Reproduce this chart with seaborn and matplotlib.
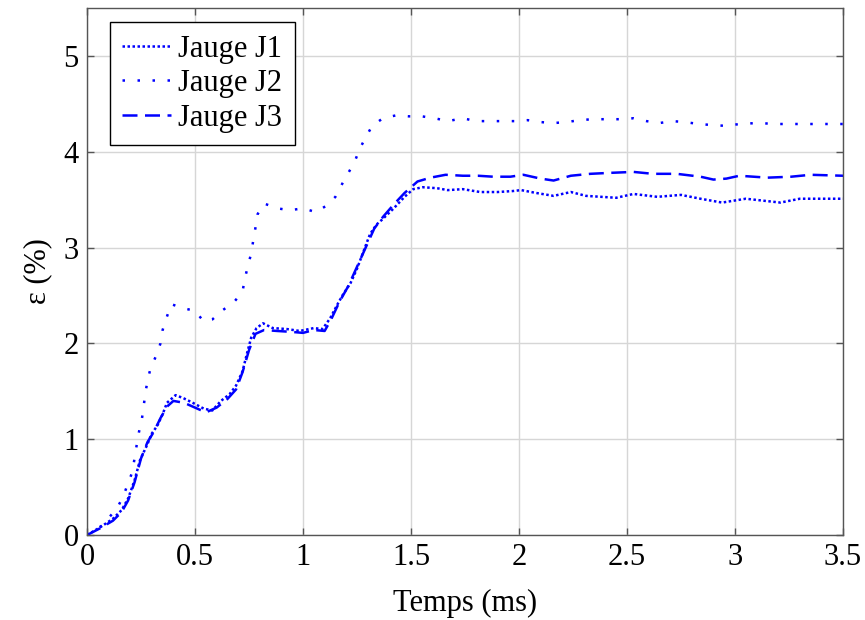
import pandas as pd
import seaborn as sns
import matplotlib.pyplot as plt

# strain gauges, time in ms, strain in %
t_j1 = [0, 0.06, 0.12, 0.16, 0.19, 0.22, 0.245, 0.28, 0.30, 0.325, 0.35, 0.37,
        0.41, 0.445, 0.49, 0.54, 0.58, 0.62, 0.66, 0.69, 0.72, 0.74, 0.76, 0.785,
        0.815, 0.86, 0.925, 0.985, 1.05, 1.09, 1.125, 1.16, 1.185, 1.22, 1.25,
        1.28, 1.31, 1.34, 1.365, 1.42, 1.47, 1.51, 1.555, 1.62, 1.67, 1.74, 1.82,
        1.90, 1.97, 2.01, 2.08, 2.16, 2.24, 2.31, 2.45, 2.53, 2.64, 2.75, 2.84,
        2.94, 3.05, 3.21, 3.30, 3.50]
eps_j1 = [0, 0.08, 0.17, 0.26, 0.38, 0.57, 0.78, 0.95, 1.06, 1.14, 1.26, 1.38,
          1.46, 1.43, 1.38, 1.32, 1.30, 1.40, 1.47, 1.56, 1.71, 1.89, 2.06, 2.16,
          2.21, 2.16, 2.15, 2.13, 2.16, 2.15, 2.26, 2.41, 2.51, 2.63, 2.78,
          2.96, 3.14, 3.24, 3.29, 3.41, 3.53, 3.61, 3.63, 3.62, 3.60, 3.61, 3.58,
          3.58, 3.59, 3.60, 3.57, 3.54, 3.58, 3.54, 3.52, 3.56, 3.53, 3.55, 3.51,
          3.47, 3.51, 3.47, 3.51, 3.51]

t_j2 = [0, 0.07, 0.139, 0.167, 0.19, 0.21, 0.22, 0.23, 0.24, 0.254, 0.262, 0.27,
        0.28, 0.295, 0.32, 0.34, 0.35, 0.37, 0.39, 0.44, 0.50, 0.54, 0.58, 0.63,
        0.68, 0.72, 0.73, 0.745, 0.76, 0.77, 0.78, 0.79, 0.82, 0.88, 0.94, 1.00,
        1.06, 1.11, 1.15, 1.18, 1.21, 1.24, 1.26, 1.29, 1.32, 1.37, 1.43, 1.49,
        1.55, 1.61, 1.67, 1.74, 1.80, 1.86, 1.92, 1.98, 2.04, 2.10, 2.16, 2.22,
        2.28, 2.34, 2.41, 2.47, 2.53, 2.59, 2.65, 2.71, 2.77, 2.83, 2.89, 2.96,
        3.02, 3.10, 3.20, 3.30, 3.50]
eps_j2 = [0, 0.10, 0.28, 0.40, 0.54, 0.66, 0.80, 0.94, 1.07, 1.21, 1.34, 1.48,
          1.61, 1.75, 1.87, 2.00, 2.14, 2.28, 2.41, 2.37, 2.34, 2.23, 2.25, 2.35,
          2.43, 2.54, 2.67, 2.81, 2.94, 3.08, 3.21, 3.35, 3.46, 3.41, 3.39, 3.41,
          3.37, 3.44, 3.53, 3.66, 3.78, 3.90, 4.02, 4.15, 4.27, 4.35, 4.38, 4.37,
          4.37, 4.35, 4.32, 4.35, 4.32, 4.32, 4.32, 4.32, 4.33, 4.31, 4.30, 4.31,
          4.33, 4.34, 4.34, 4.34, 4.35, 4.32, 4.30, 4.32, 4.31, 4.29, 4.28, 4.27,
          4.29, 4.30, 4.29, 4.29, 4.29]

t_j3 = [0, 0.06, 0.12, 0.16, 0.19, 0.22, 0.25, 0.28, 0.31, 0.34, 0.37, 0.40,
        0.45, 0.50, 0.55, 0.60, 0.65, 0.69, 0.72, 0.75, 0.78, 0.82, 0.88, 0.95,
        1.00, 1.05, 1.10, 1.13, 1.17, 1.21, 1.25, 1.29, 1.33, 1.37, 1.42, 1.47,
        1.53, 1.59, 1.66, 1.74, 1.81, 1.88, 1.96, 2.02, 2.10, 2.16, 2.24, 2.33,
        2.42, 2.53, 2.62, 2.73, 2.84, 2.90, 2.96, 3.02, 3.15, 3.26, 3.35, 3.50]
eps_j3 = [0, 0.07, 0.15, 0.24, 0.36, 0.55, 0.80, 0.97, 1.08, 1.22, 1.34, 1.40,
          1.38, 1.33, 1.28, 1.33, 1.42, 1.52, 1.70, 1.93, 2.10, 2.14, 2.13, 2.12,
          2.11, 2.14, 2.13, 2.25, 2.44, 2.60, 2.80, 3.00, 3.20, 3.32, 3.45, 3.57,
          3.69, 3.73, 3.76, 3.75, 3.75, 3.74, 3.74, 3.76, 3.72, 3.70, 3.75, 3.77,
          3.78, 3.79, 3.77, 3.77, 3.74, 3.71, 3.72, 3.75, 3.73, 3.74, 3.76, 3.75]

labels = ["Jauge J1", "Jauge J2", "Jauge J3"]

sns.set_theme(style="ticks")
plt.rcParams["font.family"] = ["Liberation Serif", "DejaVu Serif"]
plt.rcParams["text.color"] = "black"
plt.rcParams["axes.labelcolor"] = "black"
plt.rcParams["xtick.labelcolor"] = "black"
plt.rcParams["ytick.labelcolor"] = "black"

fig = plt.figure(figsize=(8.65, 6.2), dpi=100)
ax = fig.add_axes([0.1006, 0.137, 0.874, 0.850])

blue = "#0000ff"
series = [(t_j1, eps_j1, (0, (1, 1))),
          (t_j2, eps_j2, (0, (1, 5))),
          (t_j3, eps_j3, (0, (6, 3)))]
for (t, e, ls), lab in zip(series, labels):
    df = pd.DataFrame({"t": t, "eps": e})
    sns.lineplot(data=df, x="t", y="eps", ax=ax, color=blue, linestyle=ls,
                 linewidth=1.8, label=lab, sort=False)

ax.set_xlim(0, 3.5)
ax.set_ylim(0, 5.5)
ax.set_xticks([0, 0.5, 1, 1.5, 2, 2.5, 3, 3.5])
ax.set_xticklabels(["0", "0.5", "1", "1.5", "2", "2.5", "3", "3.5"])
ax.set_yticks([0, 1, 2, 3, 4, 5])
ax.grid(True, color="#d6d6d6", linewidth=1.0)
ax.set_axisbelow(True)
for sp in ax.spines.values():
    sp.set_color("#555555")
    sp.set_linewidth(1.0)
ax.tick_params(direction="in", length=5, width=1, color="#555555",
               labelsize=22, top=True, right=True, pad=6)
ax.set_xlabel("Temps (ms)", fontsize=22, labelpad=12)
ax.set_ylabel("ε (%)", fontsize=22, labelpad=8)

leg = ax.legend(loc="upper left", bbox_to_anchor=(0.030, 0.973),
                borderaxespad=0, fontsize=22, frameon=True, fancybox=False,
                handlelength=1.6, handletextpad=0.25, borderpad=0.4,
                labelspacing=0.18)
leg.get_frame().set_edgecolor("black")
leg.get_frame().set_linewidth(1.0)
leg.get_frame().set_alpha(1)

fig.savefig("out.png", dpi=100)
